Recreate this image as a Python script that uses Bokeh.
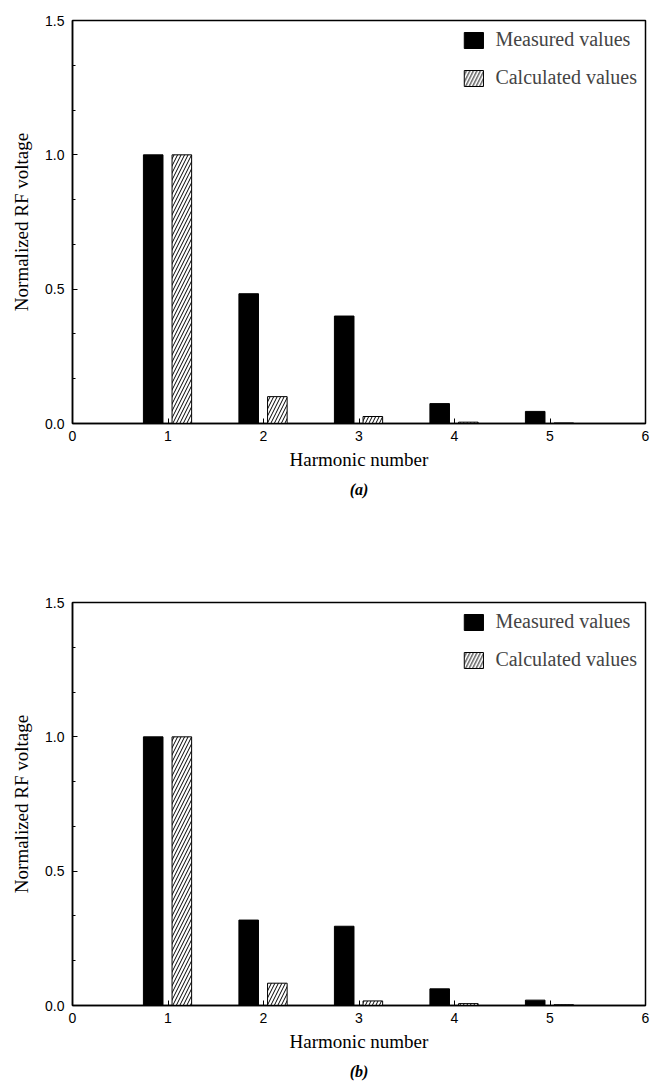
from bokeh.plotting import figure
from bokeh.models import (ColumnDataSource, Range1d, FixedTicker, Title, Legend,
                          LegendItem, PrintfTickFormatter)
from bokeh.layouts import column
from bokeh.transform import dodge
from bokeh.embed import file_html
from bokeh.resources import INLINE

harmonics = [1, 2, 3, 4, 5]
measured_a = [1.0, 0.483, 0.40, 0.074, 0.045]
calculated_a = [1.0, 0.10, 0.026, 0.005, 0.002]
measured_b = [1.0, 0.318, 0.295, 0.062, 0.02]
calculated_b = [1.0, 0.083, 0.017, 0.007, 0.003]
x_ticks = [0, 1, 2, 3, 4, 5, 6]
y_ticks = [0.0, 0.5, 1.0, 1.5]
captions = ["(a)", "(b)"]
series_names = ["Measured values", "Calculated values"]

SERIF = "Liberation Serif"
SANS = "Liberation Sans"


def make_panel(measured, calculated, caption, height, bottom):
    p = figure(width=653, height=height, output_backend="svg", toolbar_location=None,
               x_range=Range1d(0, 6), y_range=Range1d(0, 1.5),
               min_border_left=72, min_border_right=8, min_border_top=20,
               min_border_bottom=bottom, background_fill_color="white",
               border_fill_color="white")
    src = ColumnDataSource(dict(h=harmonics, m=measured, c=calculated))
    r1 = p.vbar(x=dodge("h", -0.155, range=p.x_range), top="m", width=0.205, source=src,
                fill_color="black", line_color="black", line_width=1)
    r2 = p.vbar(x=dodge("h", 0.145, range=p.x_range), top="c", width=0.205, source=src,
                fill_color="white", line_color="black", line_width=1,
                hatch_pattern="/", hatch_color="black", hatch_scale=7, hatch_weight=1)
    p.xgrid.visible = False
    p.ygrid.visible = False
    p.outline_line_color = "black"
    p.outline_line_width = 1.5

    for ax in (p.xaxis[0], p.yaxis[0]):
        ax.axis_line_width = 1.5
        ax.major_tick_in = 5
        ax.major_tick_out = 0
        ax.major_label_text_font = SANS
        ax.major_label_text_font_size = "14px"
        ax.major_label_text_color = "black"
        ax.axis_label_text_font = SERIF
        ax.axis_label_text_font_size = "19px"
        ax.axis_label_text_font_style = "normal"
        ax.axis_label_text_color = "black"
    p.xaxis.ticker = FixedTicker(ticks=x_ticks)
    p.xaxis.minor_tick_in = 0
    p.xaxis.minor_tick_out = 0
    p.xaxis.major_label_standoff = 7
    p.xaxis.axis_label = "Harmonic number"
    p.xaxis.axis_label_standoff = 5
    p.yaxis.ticker = FixedTicker(ticks=y_ticks,
                                 minor_ticks=[i / 6 for i in range(10)])
    p.yaxis.formatter = PrintfTickFormatter(format="%.1f")
    p.yaxis.minor_tick_in = 3
    p.yaxis.minor_tick_out = 0
    p.yaxis.major_label_standoff = 8
    p.yaxis.axis_label = "Normalized RF voltage"
    p.yaxis.axis_label_standoff = 10

    legend = Legend(items=[LegendItem(label=series_names[0], renderers=[r1]),
                           LegendItem(label=series_names[1], renderers=[r2])],
                    location="top_right", border_line_color=None,
                    background_fill_alpha=0, label_text_font=SERIF,
                    label_text_font_size="20px", glyph_width=24, glyph_height=20,
                    spacing=15, margin=8, padding=12, label_standoff=10)
    p.add_layout(legend)

    cap = Title(text=caption, align="center", text_font=SERIF, text_font_size="16px",
                text_font_style="bold italic", text_color="black", standoff=12)
    p.add_layout(cap, "below")
    return p


pa = make_panel(measured_a, calculated_a, captions[0], 582, 159)
pb = make_panel(measured_b, calculated_b, captions[1], 503, 79)
layout = column(pa, pb, spacing=0)
open("out.html", "w").write(file_html(layout, INLINE))
